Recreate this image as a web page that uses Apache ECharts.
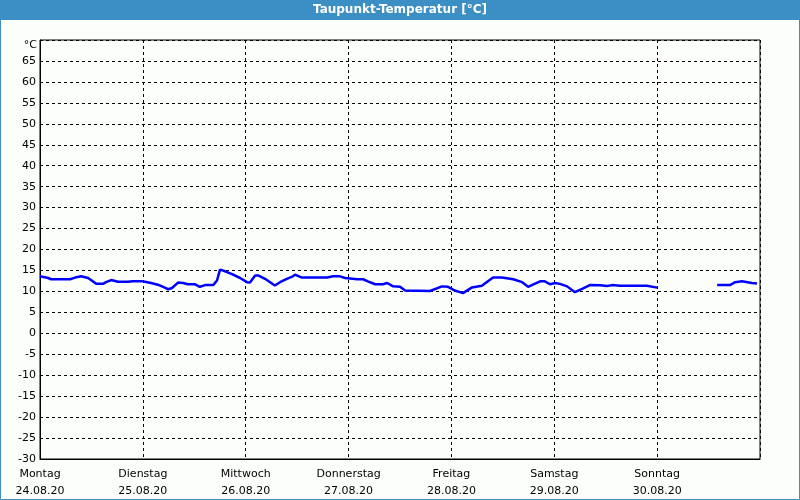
<!DOCTYPE html>
<html><head><meta charset="utf-8">
<script src="https://cdn.jsdelivr.net/npm/echarts@6/dist/echarts.min.js"></script>
<style>html,body{margin:0;padding:0;background:#fcfefc;}#c{width:800px;height:500px;}</style>
</head><body><div id="c"></div>
<script>
// hours since Mon 24.08.20 00:00
const hours = [0,1.9,2.6,7.0,8.2,9.6,11.2,11.9,13.1,14.7,15.4,16.6,18.2,20.5,21.7,23.6,24.5,25.9,27.5,29.4,29.9,30.8,32.2,33.4,34.5,36.2,37.3,38.5,40.4,41.3,42.0,43.2,44.8,46.7,48.3,49.0,50.2,50.9,52.5,54.8,56.0,57.6,59.0,59.5,61.1,67.0,68.4,70.0,71.2,74.0,75.4,76.5,78.2,80.0,81.0,82.4,84.0,85.2,91.0,93.8,95.2,96.8,98.7,100.8,103.1,105.7,107.8,110.4,112.5,113.9,115.0,116.7,117.8,119.0,120.2,121.3,123.0,124.8,126.5,128.3,130.7,132.3,133.5,135.3,141.6,144.0,151.0,158.0,161.0,162.2,163.8,166.1,167.3];
const dewpoint = [13.6,13.2,12.9,12.9,13.3,13.6,13.2,12.7,11.8,11.8,12.2,12.7,12.3,12.3,12.45,12.45,12.3,12.0,11.6,10.8,10.5,10.8,12.1,12.0,11.7,11.7,11.1,11.5,11.5,12.6,15.2,14.8,14.1,13.2,12.2,12.1,13.8,13.8,13.0,11.4,12.2,13.0,13.6,14.0,13.3,13.3,13.6,13.6,13.2,12.9,12.9,12.4,11.7,11.7,12.0,11.2,11.1,10.2,10.1,11.2,11.1,10.2,9.6,10.95,11.35,13.3,13.3,12.9,12.2,11.1,11.6,12.4,12.4,11.7,12.0,11.8,11.2,9.8,10.6,11.5,11.45,11.3,11.5,11.35,11.35,10.9,null,11.5,11.5,12.2,12.4,12.0,11.9];
const dayNames = ['Montag','Dienstag','Mittwoch','Donnerstag','Freitag','Samstag','Sonntag'];
const dayDates = ['24.08.20','25.08.20','26.08.20','27.08.20','28.08.20','29.08.20','30.08.20'];
const titleText = 'Taupunkt-Temperatur [°C]';
const unitText = '°C';

const font = 'Tahoma, "DejaVu Sans", sans-serif';
const chart = echarts.init(document.getElementById('c'), null, {renderer:'canvas'});
chart.setOption({
  animation:false,
  backgroundColor:'#fcfefc',
  graphic:[
    {type:'rect', shape:{x:0,y:0,width:800,height:20}, style:{fill:'#3c8fc4'}, z:0},
    {type:'rect', shape:{x:0.5,y:0.5,width:799,height:499}, style:{fill:'none', stroke:'#3c8fc4', lineWidth:1}, z:0},
    {type:'text', left:'center', top:4, style:{text:titleText, fill:'#ffffff', font:'bold 12px '+font}, z:10},
    {type:'text', right:763, top:40, style:{text:unitText, fill:'#000', font:'11px '+font, align:'right'}, z:10}
  ],
  grid:{left:40, top:40, right:40, bottom:40, show:true, borderColor:'#000', borderWidth:1, backgroundColor:'transparent'},
  xAxis:{
    type:'value', min:0, max:168, interval:24,
    axisLine:{show:true, onZero:false, lineStyle:{color:'#000', width:1}},
    axisTick:{show:false},
    splitLine:{show:true, lineStyle:{color:'#000', type:[3,3], width:1}},
    axisLabel:{
      color:'#000', fontFamily:font, fontSize:11, lineHeight:17, margin:7,
      formatter:function(v){const i=Math.round(v/24); return i<7? dayNames[i]+'\n'+dayDates[i] : '';}
    }
  },
  yAxis:{
    type:'value', min:-30, max:70, interval:5,
    axisLine:{show:true, onZero:false, lineStyle:{color:'#000', width:1}},
    axisTick:{show:false},
    splitLine:{show:true, lineStyle:{color:'#000', type:[3,3], width:1}},
    axisLabel:{color:'#000', fontFamily:font, fontSize:11, margin:4,
      formatter:function(v){return v===70?'':String(v);}}
  },
  series:[{
    type:'line', data:hours.map((h,i)=>[h,dewpoint[i]]),
    showSymbol:false, connectNulls:false,
    lineStyle:{color:'#0000ff', width:2.5}, itemStyle:{color:'#0000ff'}
  }]
});
</script></body></html>
